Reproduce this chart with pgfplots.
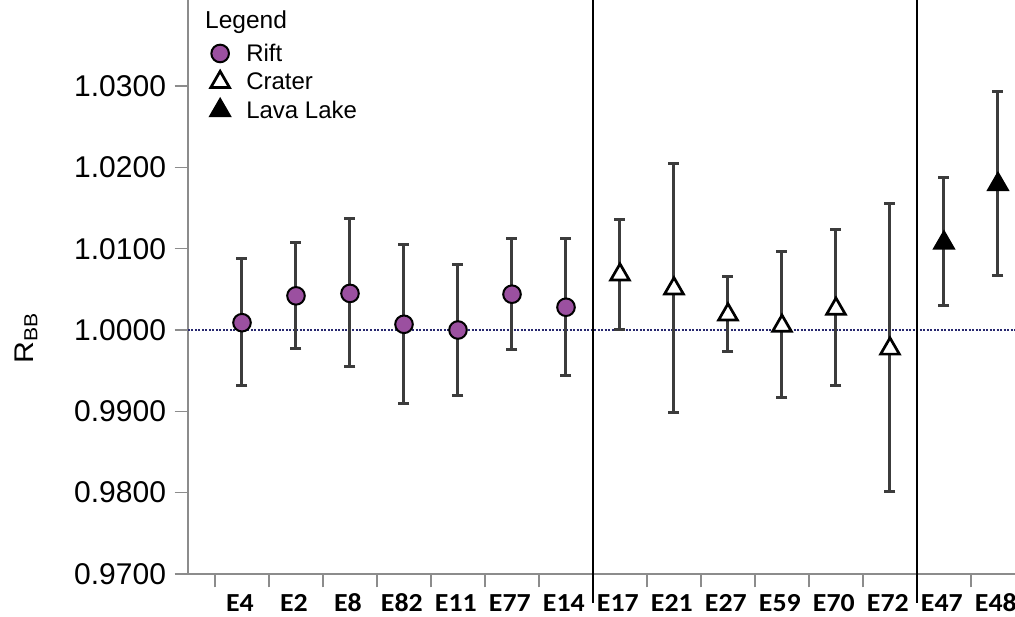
\documentclass[border=0pt]{standalone}
\usepackage{pgfplots}
\pgfplotsset{compat=1.18}
\usepackage{fontspec}
\setmainfont{Liberation Sans}
\newfontfamily\cali{Carlito}
\definecolor{rift}{RGB}{155,80,160}
\definecolor{ebar}{RGB}{60,60,60}
\definecolor{axgray}{RGB}{140,140,140}
\definecolor{refline}{RGB}{40,40,110}
\begin{document}
\begin{tikzpicture}
\begin{axis}[
  at={(0pt,0pt)}, anchor=south west,
  scale only axis, width=827pt, height=574pt,
  xmin=-1, xmax=14.315, ymin=0.97, ymax=1.040577,
  axis x line=bottom, axis y line=left,
  axis line style={-, draw=axgray, line width=1.5pt},
  tick align=outside, major tick length=13.5pt,
  tick style={draw=axgray, line width=1.5pt},
  ytick={0.97,0.98,0.99,1,1.01,1.02,1.03},
  yticklabel style={font=\fontsize{30}{36}\selectfont, xshift=-5pt, /pgf/number format/.cd, fixed, fixed zerofill, precision=4, assume math mode=true},
  xtick={-0.5,0.5,...,13.5}, xticklabels={},
  extra x ticks={0,1,2,3,4,5,6,7,8,9,10,11,12,13,14},
  extra x tick labels={E4,E2,E8,E82,E11,E77,E14,E17,E21,E27,E59,E70,E72,E47,E48},
  extra x tick style={major tick length=0pt, xticklabel style={font=\cali\bfseries\fontsize{26}{30}\selectfont, anchor=base, inner sep=0pt, xscale=1.07, yshift=-38pt, xshift=-2pt}},
  ylabel={R\textsubscript{BB}},
  ylabel style={font=\fontsize{27}{32}\selectfont, at={(rel axis cs:-0.1959,0.411)}, anchor=center, xscale=1.12},
  clip=false,
  legend image code/.code={\draw[#1] plot coordinates {(0pt,0pt)};},
  legend cell align=left,
  legend style={at={(rel axis cs:0.02757,0.9233)}, anchor=north west, draw=none, fill=none, inner sep=0pt, outer sep=0pt,
    font=\fontsize{24}{28}\selectfont, nodes={inner sep=0pt}, row sep=8.4pt, column sep=16.8pt},
]
% reference line at 1
\addplot[refline, line width=2pt, dash pattern=on 2pt off 1.5pt, forget plot] coordinates {(-1,1) (14.315,1)};

% Rift
\addplot[forget plot, only marks, mark=*, mark size=8.8pt, mark options={fill=rift, draw=black, line width=2pt, solid},
  error bars/.cd, y dir=both, y explicit,
  error bar style={ebar, line width=3pt},
  error mark options={rotate=90, mark size=5.5pt, ebar, line width=3pt}]
coordinates {
(0,1.0009) += (0,0.0079) -= (0,0.0077)
(1,1.0042) += (0,0.0065) -= (0,0.0065)
(2,1.0045) += (0,0.0092) -= (0,0.0090)
(3,1.0007) += (0,0.0098) -= (0,0.0097)
(4,1.0000) += (0,0.0081) -= (0,0.0081)
(5,1.0044) += (0,0.0068) -= (0,0.0068)
(6,1.0028) += (0,0.0084) -= (0,0.0084)
};

% Crater
\addplot[forget plot, only marks, mark=triangle*, mark size=10.8pt, mark options={fill=white, draw=black, line width=2.7pt, solid},
  error bars/.cd, y dir=both, y explicit,
  error bar style={ebar, line width=3pt},
  error mark options={rotate=90, mark size=5.5pt, ebar, line width=3pt}]
coordinates {
(7,1.0068) += (0,0.0068) -= (0,0.0067)
(8,1.0051) += (0,0.0154) -= (0,0.0153)
(9,1.0019) += (0,0.0047) -= (0,0.0045)
(10,1.0005) += (0,0.0091) -= (0,0.0088)
(11,1.0026) += (0,0.0097) -= (0,0.0094)
(12,0.9977) += (0,0.0178) -= (0,0.0175)
};

% Lava Lake
\addplot[forget plot, only marks, mark=triangle*, mark size=10.8pt, mark options={fill=black, draw=black, line width=2.7pt, solid},
  error bars/.cd, y dir=both, y explicit,
  error bar style={ebar, line width=3pt},
  error mark options={rotate=90, mark size=5.5pt, ebar, line width=3pt}]
coordinates {
(13,1.0107) += (0,0.0080) -= (0,0.0077)
(14,1.0179) += (0,0.0114) -= (0,0.0112)
};

\addlegendimage{mark=*, mark size=8.8pt, mark options={fill=rift, draw=black, line width=2pt, solid}}
\addlegendentry{Rift}
\addlegendimage{mark=triangle*, mark size=10.8pt, mark options={fill=white, draw=black, line width=2.7pt, solid}}
\addlegendentry{Crater}
\addlegendimage{mark=triangle*, mark size=10.8pt, mark options={fill=black, draw=black, line width=2.7pt, solid}}
\addlegendentry{Lava Lake}

% group separators
\draw[black, line width=2pt] (axis cs:6.5,1.040577) -- ([yshift=-29pt]axis cs:6.5,0.97);
\draw[black, line width=2pt] (axis cs:12.5,1.040577) -- ([yshift=-29pt]axis cs:12.5,0.97);

\node[anchor=base west, font=\fontsize{24.5}{28}\selectfont, inner sep=0pt] at (rel axis cs:0.02056,0.9495) {Legend};
\end{axis}
\pgfresetboundingbox
\path[use as bounding box] (-188pt,-43pt) rectangle (827pt,574pt);
\end{tikzpicture}
\end{document}
